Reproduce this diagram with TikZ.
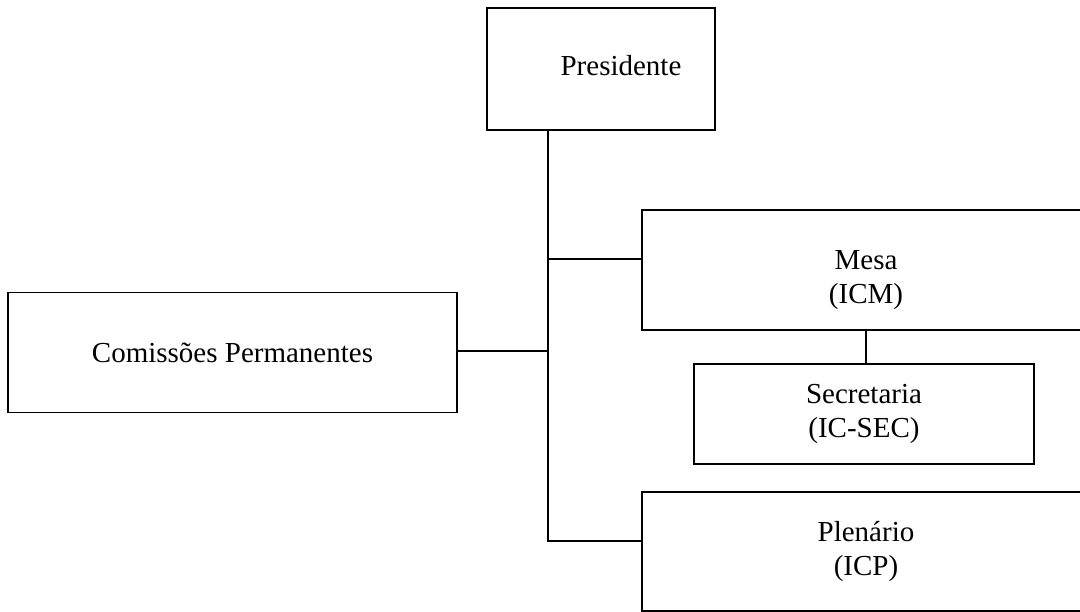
\documentclass[tikz,border=0pt]{standalone}
\usepackage{fontspec}
\setmainfont{Liberation Serif}
\begin{document}
\begin{tikzpicture}[x=1pt,y=-1pt,
  orgbox/.style={draw,line width=1.5pt,inner sep=0pt,align=center,
    font=\fontsize{29}{34}\selectfont},
  orgtext/.style={inner sep=0pt,align=center,font=\fontsize{29}{34}\selectfont},
  conn/.style={line width=1.5pt}]
\useasboundingbox (0,0) rectangle (1080,612);
\node[orgbox,minimum width=228pt,minimum height=122pt] (pres) at (601,69) {};
\node[orgtext] (prest) at (621,66) {Presidente};
\node[orgbox,minimum width=448pt,minimum height=120pt] (mesa) at (866,270) {};
\node[orgtext] (mesat) at (866,280) {Mesa\\(ICM)};
\node[orgbox,minimum width=449pt,minimum height=120pt] (com) at (232.5,352.5) {Comissões Permanentes};
\node[orgbox,minimum width=340pt,minimum height=100pt] (sec) at (864,414) {Secretaria\\(IC-SEC)};
\node[orgbox,minimum width=448pt,minimum height=119pt] (plen) at (866,551.5) {Plenário\\(ICP)};
\coordinate (j1) at (548,259);
\coordinate (j2) at (548,351);
\coordinate (j3) at (548,541);
\draw[conn] (pres.south -| j3) -- (j3) -- (j3 -| plen.west);
\draw[conn] (j1) -- (j1 -| mesa.west);
\draw[conn] (j2 -| com.east) -- (j2);
\draw[conn] (mesa.south) -- (mesa.south |- sec.north);
\end{tikzpicture}
\end{document}
